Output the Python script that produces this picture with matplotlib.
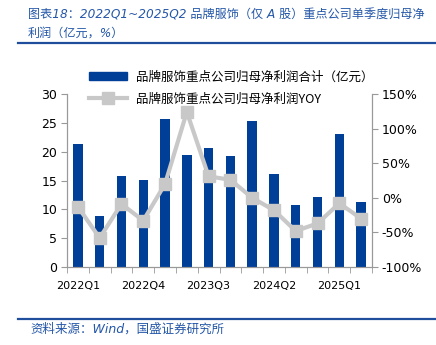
import matplotlib
matplotlib.use("Agg")
import matplotlib.pyplot as plt
import numpy as np
from matplotlib.lines import Line2D

plt.rcParams['font.family'] = ['DejaVu Sans', 'Noto Sans CJK SC']

quarters = ['2022Q1','2022Q2','2022Q3','2022Q4','2023Q1','2023Q2','2023Q3','2023Q4',
            '2024Q1','2024Q2','2024Q3','2024Q4','2025Q1','2025Q2']
profit = [21.3, 8.8, 15.8, 15.1, 25.6, 19.5, 20.6, 19.3, 25.4, 16.2, 10.7, 12.1, 23.1, 11.3]
yoy = [-13, -58, -9, -33, 20, 124, 31, 26, 0, -18, -48, -37, -8, -30]
bar_label = '品牌服饰重点公司归母净利润合计（亿元）'
line_label = '品牌服饰重点公司归母净利润YOY'
title = '图表18：2022Q1~2025Q2 品牌服饰（仅 A 股）重点公司单季度归母净\n利润（亿元，%）'
source = '资料来源：Wind，国盛证券研究所'

W, H = 436, 345
fig = plt.figure(figsize=(W/100, H/100), dpi=100)
ax = fig.add_axes([67/W, 1-267/H, (372-67)/W, (267-94)/H])
ax2 = ax.twinx()

x = np.arange(len(quarters))
bar_color = '#003f98'
line_color = '#c8c8c8'
ax.bar(x, profit, width=0.43, color=bar_color, zorder=2)
ax2.plot(x, yoy, color=line_color, lw=3, marker='s', ms=8.5, zorder=3)

ax.set_xlim(-0.5, len(quarters)-0.5)
ax.set_ylim(0, 30)
ax.set_yticks(range(0, 31, 5))
ax2.set_ylim(-100, 150)
ax2.set_yticks(range(-100, 151, 50))
ax2.set_yticklabels([f'{v}%' for v in range(-100, 151, 50)])

ax.set_xticks(x[::3])
ax.set_xticklabels(quarters[::3])
ax.tick_params(axis='x', length=0, pad=10, labelsize=8)
ax.set_xticks(np.arange(-0.5, len(quarters), 1), minor=True)
ax.tick_params(axis='x', which='minor', length=4, color='#999999', direction='out')
ax.tick_params(axis='y', length=4, color='#999999', labelsize=9, pad=3)
ax2.tick_params(axis='y', length=4, color='#999999', labelsize=9, pad=3)

for a in (ax, ax2):
    a.spines['top'].set_visible(False)
    for s in ('left', 'right', 'bottom'):
        a.spines[s].set_color('#999999')
        a.spines[s].set_linewidth(0.8)
ax2.patch.set_visible(False)

handles = [plt.Rectangle((0, 0), 1, 1, color=bar_color),
           Line2D([], [], color=line_color, lw=3, marker='s', ms=8.5)]
fig.legend(handles, [bar_label, line_label], loc='upper left',
           bbox_to_anchor=(78/W, 1-59/H), frameon=False,
           handlelength=3.0, handleheight=0.7, handletextpad=0.75, labelspacing=0.75,
           prop={'family': ['Noto Sans CJK SC', 'DejaVu Sans'], 'size': 9})

blue = '#2457a8'
fig.text(28/W, 1-9/H, title, ha='left', va='top', color=blue, fontsize=8.7,
         style='italic', family=['DejaVu Sans', 'Noto Sans CJK SC'], linespacing=1.5)
fig.add_artist(Line2D([18/W, 1], [1-42.5/H]*2, color='#1f4e9c', lw=1.6))
fig.add_artist(Line2D([18/W, 1], [1-319/H]*2, color='#1f4e9c', lw=1.6))
fig.text(30/W, 1-329/H, source, ha='left', va='center', color=blue, fontsize=9,
         style='italic', family=['DejaVu Sans', 'Noto Sans CJK SC'])

fig.savefig('out.png', dpi=100)
